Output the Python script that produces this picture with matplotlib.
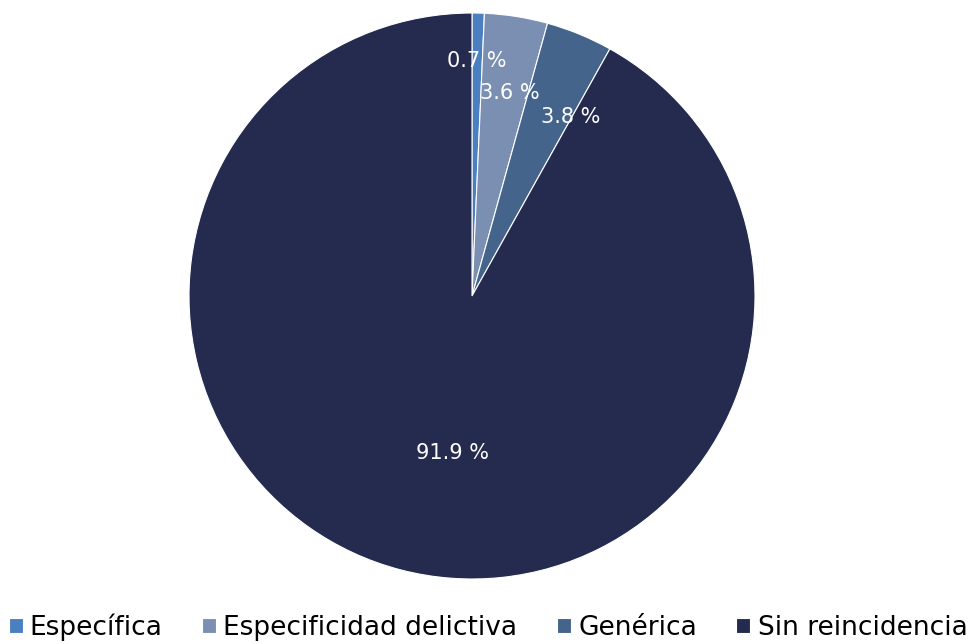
import matplotlib.pyplot as plt
import numpy as np

categories = ["Específica", "Especificidad delictiva", "Genérica", "Sin reincidencia"]
values = [0.7, 3.6, 3.8, 91.9]
colors = ["#4a7fc0", "#7b8fb3", "#44648c", "#252b4f"]

# per-label radial distance / angle nudge (degrees, clockwise) to mimic the original placement
label_dist = [0.83, 0.73, 0.72, 0.56]
label_nudge = [0, 1.5, 6.5, -7.5]

plt.rcParams['font.family'] = ['DejaVu Sans']

fig = plt.figure(figsize=(9.76, 6.44), dpi=100)
ax = fig.add_axes([189 / 976, 65 / 644, 566 / 976, 566 / 644])

wedges, texts, autotexts = ax.pie(
    values, colors=colors, startangle=90, counterclock=False,
    autopct=lambda p: f"{p:.1f} %", pctdistance=0.7,
    wedgeprops=dict(edgecolor="white", linewidth=0.8),
    textprops=dict(color="white", fontsize=15),
)

for w, t, d, n in zip(wedges, autotexts, label_dist, label_nudge):
    mid = np.deg2rad((w.theta1 + w.theta2) / 2 - n)
    t.set_position((d * np.cos(mid), d * np.sin(mid)))
    t.set_ha("center")
    t.set_va("center")

ax.set_xlim(-1, 1)
ax.set_ylim(-1, 1)
ax.set_aspect("equal")

fig.legend(wedges, categories, loc="center", bbox_to_anchor=(0.5, 0.026),
           ncol=4, frameon=False, fontsize=19, handlelength=0.53, handleheight=0.53,
           handletextpad=0.27, columnspacing=1.5, borderpad=0)

fig.savefig("out.png", dpi=100)
